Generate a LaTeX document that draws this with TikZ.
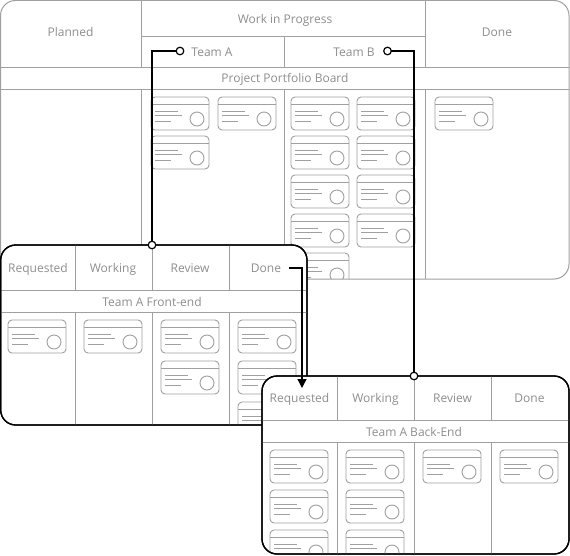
\documentclass[tikz,border=0pt]{standalone}
\usepackage{fontspec}
\setmainfont{Open Sans}
\usetikzlibrary{arrows.meta}
\definecolor{ln}{HTML}{A0A0A0}
\definecolor{tx}{HTML}{8E8E8E}
\tikzset{
  grid/.style={draw=ln, line width=0.9pt},
  lbl/.style={text=tx, font=\fontsize{12}{14}\selectfont, inner sep=0pt, anchor=base},
  boardA/.style={draw=ln, line width=1pt, rounded corners=15pt},
  boardB/.style={draw=black, fill=white, line width=1.3pt, rounded corners=15pt},
  conn/.style={draw=black, line width=1.3pt},
  dot/.style={draw=black, fill=white, line width=1.2pt},
  card/.pic={
    \draw[ln, line width=0.9pt, rounded corners=4pt] (0,0) rectangle (58,33);
    \draw[ln, line width=0.9pt] (0,7) -- (58,7);
    \draw[ln, line width=0.9pt] (4,14) -- (27,14) (4,18) -- (31,18) (4,24) -- (20,24);
    \draw[ln, line width=0.9pt] (46,22) circle[radius=7pt];
  }
}
\begin{document}
\begin{tikzpicture}[x=1pt, y=-1pt]
\useasboundingbox (0,0) rectangle (570,556);
\fill[white] (0,0) rectangle (570,556);

% ---------- main board ----------
\begin{scope}
  \clip[rounded corners=15pt] (0.5,0.5) rectangle (569,279);
  \foreach \px/\py in {151/97,218/97,151/136,
                       291/97,291/136,291/175,291/214,291/253,
                       357/97,357/136,357/175,357/214,
                       435/97}
    {\pic at (\px,\py) {card};}
\end{scope}
\draw[boardA] (0.5,0.5) rectangle (569,279);
\draw[grid] (141,0.5) -- (141,67) (141,89) -- (141,279)
            (425,0.5) -- (425,67) (425,89) -- (425,279)
            (284,36) -- (284,67) (284,89) -- (284,279)
            (141,36) -- (425,36)
            (0.5,67) -- (569,67) (0.5,89) -- (569,89);
\node[lbl] (planned) at (70.5,36.5) {Planned};
\node[lbl] (wip) at (285,23.3) {Work in Progress};
\node[lbl] (doneM) at (497,36.5) {Done};
\node[lbl] (teamA) at (212,56.5) {Team A};
\node[lbl] (teamB) at (354,56.5) {Team B};
\node[lbl] (ppb) at (285,82.7) {Project Portfolio Board};

% ---------- front-end board ----------
\draw[boardB] (0.7,245) rectangle (307,425);
\begin{scope}
  \clip[rounded corners=15pt] (0.7,245) rectangle (307,425);
  \foreach \px/\py in {8/320,84/320,161/320,161/361,238/320,238/361,238/402}
    {\pic at (\px,\py) {card};}
\end{scope}
\draw[grid] (75,245) -- (75,290) (75,312) -- (75,425)
            (152,245) -- (152,290) (152,312) -- (152,425)
            (229,245) -- (229,290) (229,312) -- (229,425)
            (0.7,290) -- (307,290) (0.7,312) -- (307,312);
\draw[boardB, fill=none] (0.7,245) rectangle (307,425);
\node[lbl] (fReq) at (38,272.5) {Requested};
\node[lbl] (fWork) at (113,272.5) {Working};
\node[lbl] (fRev) at (190,272.5) {Review};
\node[lbl] (fDone) at (266,272.5) {Done};
\node[lbl] (fTitle) at (152,306.5) {Team A Front-end};

% ---------- back-end board ----------
\draw[boardB] (262,376) rectangle (569,554);
\begin{scope}
  \clip[rounded corners=15pt] (262,376) rectangle (569,554);
  \foreach \px/\py in {270/450,270/490,270/530,346/450,346/490,346/530,423/450,500/450}
    {\pic at (\px,\py) {card};}
\end{scope}
\draw[grid] (337,376) -- (337,420) (337,442) -- (337,554)
            (414,376) -- (414,420) (414,442) -- (414,554)
            (491,376) -- (491,420) (491,442) -- (491,554)
            (262,420) -- (569,420) (262,442) -- (569,442);
\draw[boardB, fill=none] (262,376) rectangle (569,554);
\node[lbl] (bReq) at (299.5,402.5) {Requested};
\node[lbl] (bWork) at (375.5,402.5) {Working};
\node[lbl] (bRev) at (452.5,402.5) {Review};
\node[lbl] (bDone) at (529.5,402.5) {Done};
\node[lbl] (bTitle) at (414,436.5) {Team A Back-End};

% ---------- connectors ----------
\coordinate (cA) at (180,51);
\coordinate (cB) at (387.5,51);
\coordinate (fTop) at (152,245);
\coordinate (bTop) at (414,376);
\coordinate (dStart) at (289,268);
\coordinate (dEnd) at (302,388);
\draw[conn] (cA) -| (fTop);
\draw[conn] (cB) -| (bTop);
\draw[conn, -{Triangle[width=9pt,length=9pt]}] (dStart) -| (dEnd);
\foreach \c in {cA,cB,fTop,bTop}
  \draw[dot] (\c) circle[radius=3.8pt];
\end{tikzpicture}
\end{document}
